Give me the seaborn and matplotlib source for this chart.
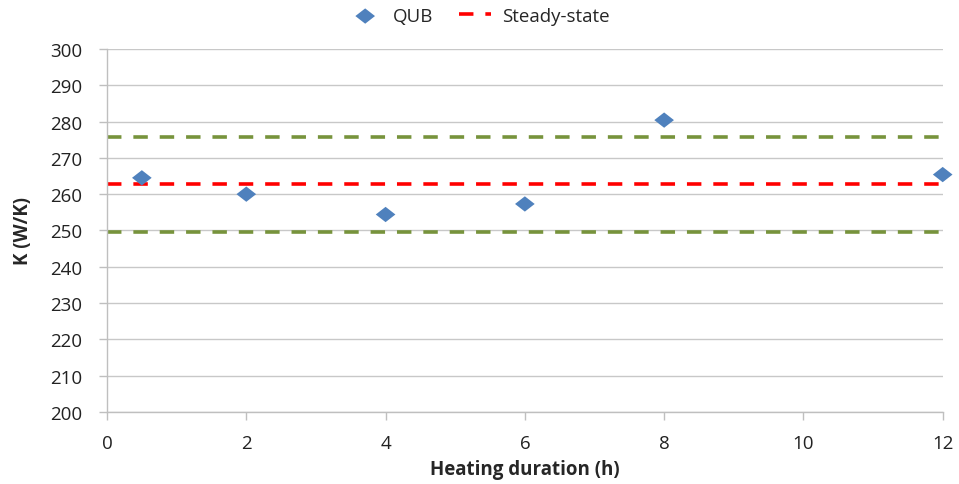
import matplotlib.pyplot as plt
import seaborn as sns
import numpy as np
import pandas as pd
from matplotlib.path import Path

# QUB measurements
hours = [0.5, 2, 4, 6, 8, 12]
k_qub = [264.5, 260.0, 254.4, 257.3, 280.4, 265.4]

# steady-state value and its +/- 5% band
line_x = [0, 12]
k_steady = 262.7
k_upper = 275.8
k_lower = 249.6

sns.set_style("white")
plt.rcParams['font.family'] = ['Open Sans', 'DejaVu Sans']

diamond = Path([(-1, 0), (0, 0.78), (1, 0), (0, -0.78), (-1, 0)],
               [Path.MOVETO, Path.LINETO, Path.LINETO, Path.LINETO, Path.CLOSEPOLY])

fig = plt.figure(figsize=(9.59, 4.85), dpi=100)
ax = fig.add_axes([0.1116, 0.1485, 0.8714, 0.7485])

df = pd.DataFrame({"h": hours, "K": k_qub})
band = pd.DataFrame({"h": line_x, "up": [k_upper] * 2, "lo": [k_lower] * 2, "ss": [k_steady] * 2})

sns.lineplot(data=band, x="h", y="up", ax=ax, color="#77933C", lw=2.6,
             linestyle=(0, (4, 3.3)), zorder=2)
sns.lineplot(data=band, x="h", y="lo", ax=ax, color="#77933C", lw=2.6,
             linestyle=(0, (4, 3.3)), zorder=2)
sns.lineplot(data=band, x="h", y="ss", ax=ax, color="#FF0000", lw=2.6,
             linestyle=(0, (4, 3.3)), zorder=2, label="Steady-state")
sns.scatterplot(data=df, x="h", y="K", ax=ax, marker=diamond, s=200, color="#4F81BD",
                edgecolor="none", zorder=3, label="QUB", clip_on=False)

ax.set_xlim(0, 12)
ax.set_ylim(200, 300)
ax.set_xticks(np.arange(0, 13, 2))
ax.set_yticks(np.arange(200, 301, 10))
ax.yaxis.grid(True, color="#c8c8c8", lw=1)
ax.xaxis.grid(False)
for s in ["top", "right"]:
    ax.spines[s].set_visible(False)
for s in ["left", "bottom"]:
    ax.spines[s].set_color("#bfbfbf")
    ax.spines[s].set_linewidth(1)
ax.tick_params(axis="both", labelsize=13.5, colors="#bfbfbf", labelcolor="#222222",
               length=6, width=1, direction="out", bottom=True, left=True)
ax.tick_params(axis="y", pad=12)
ax.tick_params(axis="x", pad=10)
ax.set_xlabel("Heating duration (h)", fontsize=13.5, fontweight="bold", labelpad=5)
ax.set_ylabel("K (W/K)", fontsize=13.5, fontweight="bold", labelpad=12)

ax.get_legend().remove()
handles, labels = ax.get_legend_handles_labels()
order = [labels.index("QUB"), labels.index("Steady-state")]
fig.legend([handles[i] for i in order], [labels[i] for i in order],
           loc="center", bbox_to_anchor=(0.5, 0.965), ncol=2, frameon=False,
           fontsize=13.5, handlelength=1.7, columnspacing=1.4, handletextpad=0.6)

plt.savefig("out.png", dpi=100)
